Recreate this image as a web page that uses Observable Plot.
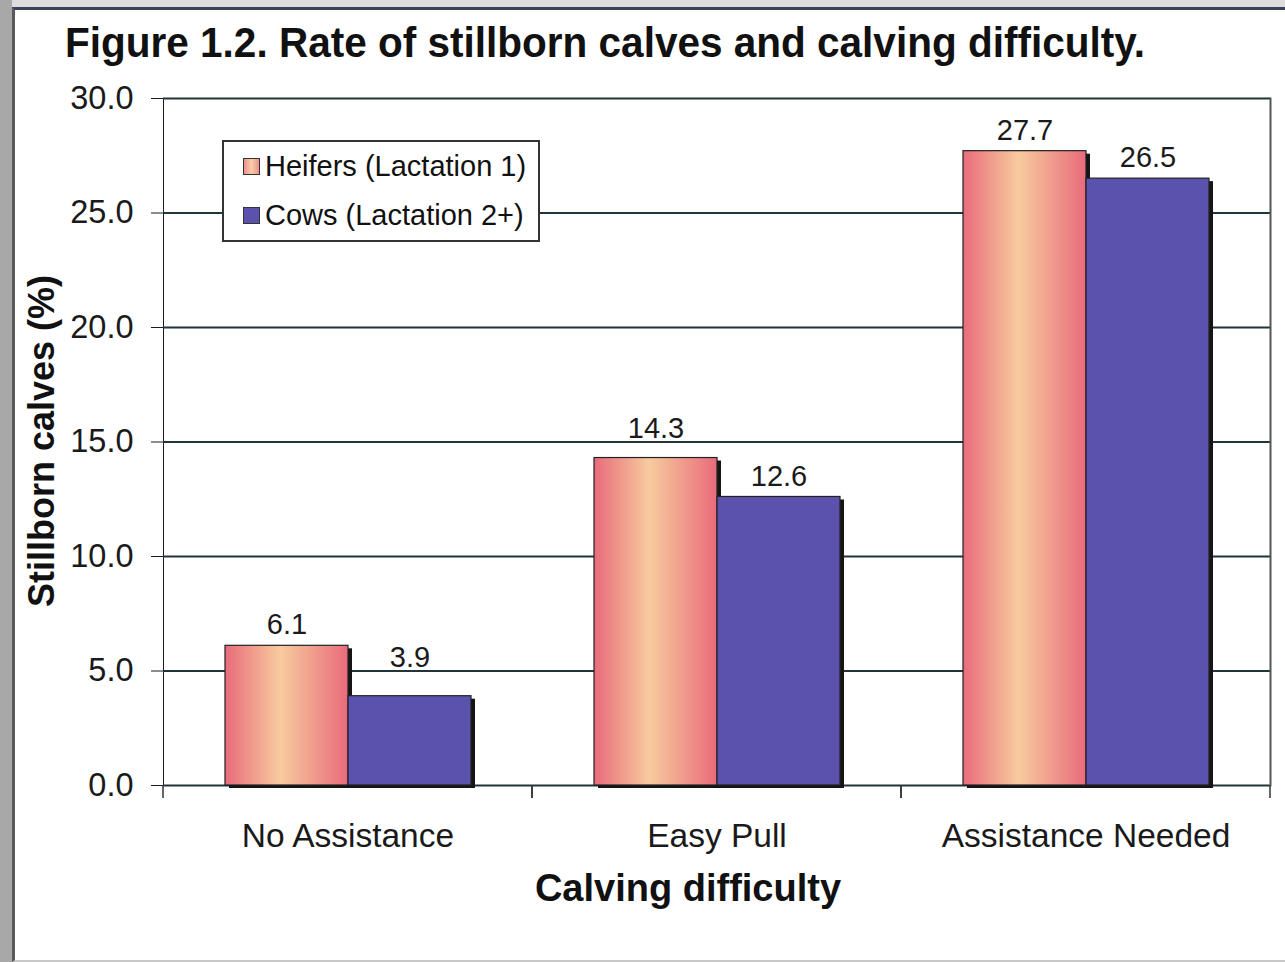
<!DOCTYPE html>
<html>
<head>
<meta charset="utf-8">
<script src="https://cdn.jsdelivr.net/npm/d3@7"></script>
<script src="https://cdn.jsdelivr.net/npm/@observablehq/plot@0.6"></script>
<style>
  html, body { margin: 0; padding: 0; width: 1285px; height: 962px; overflow: hidden; background: #dcdcdc; }
  #strip { position: absolute; left: 0; top: 0; width: 12px; height: 962px; background: #a8a8a8; }
  #page { position: absolute; left: 12px; top: 7px; width: 1273px; height: 955px; background: #fff;
          border-left: 3px solid #5a5a5a; border-top: 3px solid #3c4058; border-bottom: 2px solid #c8c8c8; box-sizing: border-box; }
  #chart { position: absolute; left: 0; top: 0; }
  #chart svg [aria-label^="fx-axis"] text { font-size: 33.5px; }
  #title { position: absolute; left: 65px; top: 22px; font: bold 42px "Liberation Sans", Arial, sans-serif; line-height: 1;
           white-space: nowrap; transform-origin: 0 0; color: #111; }
  #ytitle { position: absolute; left: 42px; top: 441px; transform: translate(-50%, -50%) rotate(-90deg);
            font: bold 36px "Liberation Sans", Arial, sans-serif; line-height: 1; white-space: nowrap; color: #111; }
  #xtitle { position: absolute; left: 438px; width: 500px; top: 869px; text-align: center;
            font: bold 38px "Liberation Sans", Arial, sans-serif; line-height: 1; white-space: nowrap; color: #111; }
  #legend { position: absolute; left: 222px; top: 140px; width: 318px; height: 102px; box-sizing: border-box;
            border: 2px solid #333; background: #fff; font: 29px "Liberation Sans", Arial, sans-serif; color: #111; }
  #legend .item { height: 49px; display: flex; align-items: center; padding-left: 19px; white-space: nowrap; }
  #legend .sw { width: 15px; height: 15px; border: 1px solid #333; margin-right: 5px; flex: none; }
</style>
</head>
<body>
<div id="strip"></div>
<div id="page"></div>
<div id="chart"></div>
<div id="title">Figure 1.2. Rate of stillborn calves and calving difficulty.</div>
<div id="ytitle">Stillborn calves (%)</div>
<div id="xtitle">Calving difficulty</div>
<div id="legend"></div>
<script>
// ---- data ----
const categories = ["No Assistance", "Easy Pull", "Assistance Needed"];
const series = ["Heifers (Lactation 1)", "Cows (Lactation 2+)"];
const heifers = [6.1, 14.3, 27.7];
const cows = [3.9, 12.6, 26.5];
const yDomain = [0, 30];
const yTickCount = 6;

// ---- styles ----
const cowColor = "#5a52ad";
const heiferFill = "url(#heiferGrad)";
const heiferStops = [[0, "#e96b7b"], [0.45, "#f7cb9e"], [1, "#e96b7b"]];
const gridColor = "#20343a";

const rows = categories.flatMap((c, i) => [
  {category: c, series: series[0], value: heifers[i]},
  {category: c, series: series[1], value: cows[i]}
]);
const isH = d => d.series === series[0];
const isC = d => d.series === series[1];
const gridValues = d3.ticks(yDomain[0], yDomain[1], yTickCount);

// label placement (Excel-like): just above the bar, pushed above a gridline it would overlap
function labelY(v) {
  const hit = gridValues.find(g => g > v && g < v + 1.4);
  return hit !== undefined ? hit + 0.6 : v + 0.9;
}

function decor(index, scales, values, dimensions) {
  const g = d3.create("svg:g");
  const grad = g.append("defs").append("linearGradient")
    .attr("id", "heiferGrad").attr("x1", 0).attr("x2", 1).attr("y1", 0).attr("y2", 0);
  heiferStops.forEach(([o, c]) => grad.append("stop").attr("offset", o).attr("stop-color", c));
  const y = scales.y;
  if (!y) return g.node();
  const y0 = y(yDomain[0]);
  const {width, marginLeft, marginRight} = dimensions;
  const fx = scales.fx;
  const inFacet = (index && index.fx !== undefined) || width < 1280;
  let edges = [];
  if (inFacet) {
    edges = [marginLeft, width - marginRight];
  } else if (fx) {
    const bw = fx.bandwidth();
    categories.forEach(c => { edges.push(fx(c)); edges.push(fx(c) + bw); });
  }
  edges.forEach(x => g.append("line").attr("x1", x).attr("x2", x).attr("y1", y0).attr("y2", y0 + 13)
    .attr("stroke", "#333").attr("stroke-width", 1.5));
  return g.node();
}

const marks = [
  Plot.ruleY(gridValues, {stroke: gridColor, strokeWidth: 2}),
  decor,
  Plot.barY(rows, {x: "series", y: "value", fill: "#151515", dx: 4, dy: 3}),
  Plot.barY(rows, {filter: isH, x: "series", y: "value", fill: heiferFill, stroke: "#222", strokeWidth: 1.2}),
  Plot.barY(rows, {filter: isC, x: "series", y: "value", fill: cowColor, stroke: "#222", strokeWidth: 1.2}),
  Plot.text(rows, {x: "series", y: d => labelY(d.value), text: d => d.value.toFixed(1), fontSize: 29, fill: "#1a1a1a"})
];
try {
  marks.push(Plot.frame({anchor: "right", facetAnchor: "right", stroke: "#555", strokeWidth: 2}));
} catch (e) {}

const chart = Plot.plot({
  width: 1285,
  height: 962,
  marginLeft: 162,
  marginRight: 15,
  marginTop: 98,
  marginBottom: 177,
  style: {background: "transparent", fontFamily: "'Liberation Sans', Arial, sans-serif", fontSize: "32.5px", color: "#1a1a1a", overflow: "visible"},
  facet: {data: rows, x: "category"},
  fx: {domain: categories, padding: 0, label: null, tickSize: 0, tickPadding: 38, axis: "bottom"},
  x: {domain: series, axis: null, paddingInner: 0, paddingOuter: 0.5},
  y: {domain: yDomain, ticks: yTickCount, tickFormat: d => d.toFixed(1), tickSize: 12, tickPadding: 18, label: null, line: true},
  marks
});
document.getElementById("chart").appendChild(chart);

// legend
const legend = d3.select("#legend");
series.forEach((s, i) => {
  const item = legend.append("div").attr("class", "item");
  item.append("span").attr("class", "sw")
    .style("background", i === 0 ? "linear-gradient(to right, #ef8f8c, #f7cfa6, #ef8f8c)" : cowColor);
  item.append("span").text(s);
});

// fit title width
const title = document.getElementById("title");
const w = title.getBoundingClientRect().width;
title.style.transform = `scaleX(${1080 / w})`;
</script>
</body>
</html>
